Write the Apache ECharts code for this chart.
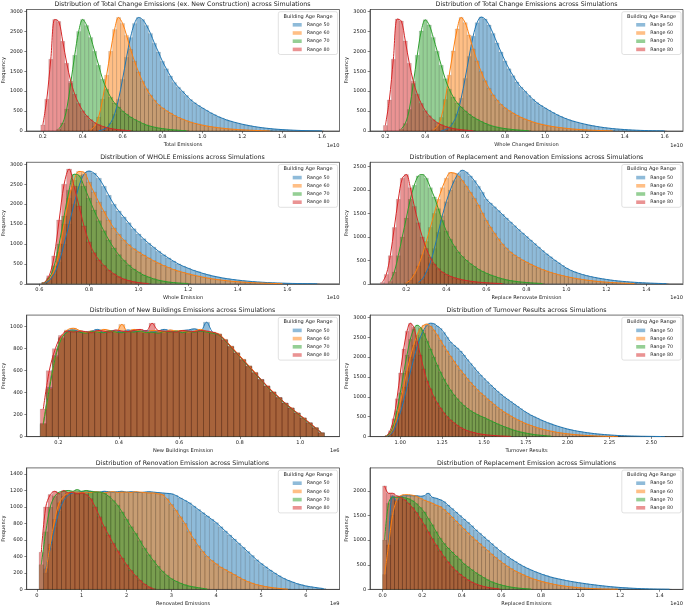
<!DOCTYPE html>
<html>
<head>
<meta charset="utf-8">
<title>Emission distributions</title>
<script src="https://cdn.jsdelivr.net/npm/echarts@6/dist/echarts.min.js"></script>
<style>
  html, body { margin: 0; padding: 0; background: #fff; }
  #main { width: 685px; height: 607px; }
</style>
</head>
<body>
<div id="main"></div>
<script>
var rangeNames = ['Range 50', 'Range 60', 'Range 70', 'Range 80'];

// ---- panel 1: total change emissions (ex. new construction), x in 1e10
var p1Step = 0.02;
var p1Start = [0.48, 0.44, 0.28, 0.20];   // first bin centre for each range
var p1R50 = [10,30,80,200,420,800,1300,1850,2350,2700,2850,2800,2650,2450,2200,1980,1750,1560,1380,1220,1100,1000,890,790,710,640,580,520,460,410,360,320,280,250,220,195,170,150,130,112,96,82,70,60,50,42,35,29,24,19,15,12,9,7,5,4,3];
var p1R60 = [30,120,350,800,1400,2000,2550,2850,2700,2400,2050,1750,1480,1250,1060,900,770,660,580,510,450,390,340,300,260,225,195,170,148,128,110,95,82,70,60,50,42,35,29,24,19,15,11,8,5,3];
var p1R70 = [50,200,550,1200,1900,2500,2800,2650,2350,2000,1650,1300,1050,850,700,600,500,420,350,290,240,190,150,120,95,75,60,47,36,27,19,12,7];
var p1R80 = [150,800,1800,2800,2750,2250,1700,1250,920,690,510,380,285,210,155,115,85,62,45,32,22,14,8];
var p1XTicks = [0.2,0.4,0.6,0.8,1.0,1.2,1.4,1.6];
var p1YTicks = [0,500,1000,1500,2000,2500,3000];

// ---- panel 2: total change emissions, x in 1e10
var p2Step = 0.02;
var p2Start = [0.48, 0.44, 0.28, 0.20];
var p2R50 = [10,30,90,210,430,820,1320,1870,2380,2720,2860,2810,2660,2450,2210,1980,1760,1560,1390,1230,1100,1000,890,795,710,640,580,520,462,410,362,320,282,250,222,195,172,150,131,113,97,83,71,60,51,43,36,29,24,19,15,12,9,7,5,4,3];
var p2R60 = [30,110,340,790,1400,2010,2560,2850,2720,2410,2060,1760,1490,1260,1070,905,775,665,580,510,450,392,342,300,262,226,196,170,148,128,111,95,82,70,60,50,42,35,29,24,19,15,11,8,5,3];
var p2R70 = [50,190,540,1190,1900,2510,2790,2660,2350,2000,1650,1310,1050,855,705,600,505,420,350,292,240,192,152,120,96,76,60,47,36,27,19,12,7];
var p2R80 = [140,780,1800,2810,2760,2260,1700,1250,925,690,510,382,285,210,156,115,85,62,45,32,22,14,8];
var p2XTicks = [0.2,0.4,0.6,0.8,1.0,1.2,1.4,1.6];
var p2YTicks = [0,500,1000,1500,2000,2500,3000];

// ---- panel 3: whole emissions, x in 1e10
var p3Step = 0.02;
var p3Start = [0.62, 0.62, 0.62, 0.62];
var p3R50 = [20,80,250,550,1000,1500,2000,2450,2750,2830,2780,2650,2450,2220,2000,1830,1680,1530,1380,1250,1130,1020,920,820,730,650,570,500,440,390,340,300,260,225,195,170,145,125,108,92,78,66,55,46,38,31,25,20,16,12,9,7,5,4,3,2];
var p3R60 = [30,130,330,800,1500,2150,2600,2820,2800,2550,2300,2050,1820,1600,1400,1240,1100,980,880,800,720,650,580,520,460,410,360,320,285,250,220,192,166,143,122,104,88,74,62,52,43,35,28,22,17,13,9,6,4];
var p3R70 = [30,150,450,1000,1700,2350,2750,2720,2450,2150,1850,1580,1330,1100,900,730,590,470,370,290,220,170,125,90,65,45,30,20,12,8];
var p3R80 = [30,200,700,1600,2500,2880,2450,1950,1450,1050,780,600,460,340,250,175,120,80,50,30,15,8];
var p3XTicks = [0.6,0.8,1.0,1.2,1.4,1.6];
var p3YTicks = [0,500,1000,1500,2000,2500,3000];

// ---- panel 4: replacement and renovation emissions, x in 1e10
var p4Step = 0.02;
var p4Start = [0.26, 0.20, 0.12, 0.08];
var p4R50 = [30,100,250,450,750,1100,1450,1750,2000,2200,2350,2420,2380,2300,2200,2080,1950,1800,1720,1640,1560,1480,1400,1320,1240,1160,1085,1010,935,860,785,710,640,575,510,450,390,335,290,255,225,198,175,155,137,121,106,93,81,70,60,52,45,38,32,27,22,18,14,11,8,6,4];
var p4R60 = [20,80,200,380,620,900,1200,1500,1800,2050,2250,2370,2360,2300,2200,2080,1950,1820,1680,1510,1350,1210,1080,960,850,760,680,615,560,510,465,420,380,340,305,275,245,220,195,175,155,137,120,105,92,80,69,59,50,42,35,29,24,19,15,11,8,5];
var p4R70 = [50,250,600,1000,1400,1800,2100,2300,2330,2250,2050,1850,1600,1350,1120,950,800,680,580,500,430,370,310,265,225,190,160,130,105,85,68,55,44,35,28,20,15,10,6];
var p4R80 = [30,200,600,1200,1800,2250,2330,2050,1650,1300,1000,750,560,420,320,250,200,160,130,105,85,70,55,45,35,28,22,16,12,8,5];
var p4XTicks = [0.2,0.4,0.6,0.8,1.0,1.2,1.4];
var p4YTicks = [0,500,1000,1500,2000,2500];

// ---- panel 5: new buildings emissions, x in 1e6
var p5Step = 0.02;
var p5Start = [0.15, 0.15, 0.15, 0.15];
var p5R50 = [120,450,740,900,960,970,955,950,960,975,945,965,960,950,970,960,955,965,950,960,975,960,955,965,970,980,960,1040,950,930,880,820,760,700,640,580,520,460,405,355,305,260,215,170,125,80,35];
var p5R60 = [120,440,730,900,970,985,965,945,960,950,975,965,950,1020,955,975,960,945,965,960,950,970,960,965,950,960,975,955,945,935,885,825,765,705,645,585,520,462,408,356,306,262,216,172,127,82,36];
var p5R70 = [110,430,720,890,950,960,950,940,955,950,945,960,950,945,955,950,960,945,950,940,955,950,960,945,955,950,960,950,940,925,875,815,755,695,635,575,515,455,400,350,300,255,210,165,120,78,33];
var p5R80 = [250,600,800,920,960,950,960,955,945,965,960,950,970,960,955,965,975,960,1030,965,960,955,950,965,960,955,965,960,950,930,880,820,760,700,640,580,520,460,405,355,305,260,215,170,125,80,35];
var p5XTicks = [0.2,0.4,0.6,0.8,1.0];
var p5YTicks = [0,200,400,600,800,1000];

// ---- panel 6: turnover results
var p6Step = 0.02;
var p6Start = [0.92, 0.92, 0.92, 0.92];
var p6R50 = [10,50,150,350,600,900,1250,1620,1950,2250,2500,2680,2800,2850,2840,2780,2720,2620,2500,2380,2300,2230,2150,2050,1940,1840,1740,1640,1550,1460,1380,1300,1220,1140,1070,1000,940,880,820,760,700,640,590,540,500,460,420,385,350,320,290,262,236,212,190,170,152,136,122,108,96,85,75,66,58,51,44,38,33,28,24,20,17,14,12,10,8,7,6,5,4,3,2,2];
var p6R60 = [20,80,250,500,850,1250,1650,2000,2300,2550,2720,2800,2830,2780,2680,2560,2420,2280,2150,2020,1900,1780,1670,1570,1460,1360,1270,1180,1100,1030,950,880,810,740,680,620,570,520,470,425,385,345,310,280,250,222,197,175,155,137,120,105,92,80,70,60,52,45,38,32,27,22,18,14,11,8,6,4,3,2];
var p6R70 = [20,100,300,650,1100,1600,2050,2450,2700,2800,2750,2600,2400,2200,2000,1800,1620,1450,1300,1170,1050,950,860,780,710,650,600,555,515,480,440,400,360,320,285,250,220,190,160,135,115,95,80,65,52,42,33,25,18,12];
var p6R80 = [30,150,450,950,1600,2200,2650,2850,2750,2400,2050,1700,1400,1200,1000,850,720,600,500,420,350,285,230,185,150,122,100,80,65,52,42,34,27,21,16,12,9,6];
var p6XTicks = [1.0,1.25,1.5,1.75,2.0,2.25,2.5];
var p6YTicks = [0,500,1000,1500,2000,2500,3000];

// ---- panel 7: renovation emission, x in 1e9
var p7Step = 0.1;
var p7Start = [0.2, 0.2, 0.1, 0.1];
var p7R50 = [250,500,750,950,1080,1140,1170,1180,1185,1180,1190,1185,1180,1190,1185,1180,1185,1190,1180,1185,1180,1175,1180,1185,1180,1175,1170,1165,1160,1140,1110,1080,1050,1010,970,930,890,850,810,760,710,660,610,560,510,460,410,360,315,275,235,200,165,135,110,90,70,55,42,32,24,16,10];
var p7R60 = [200,550,850,1050,1130,1170,1180,1180,1175,1180,1175,1185,1180,1170,1180,1185,1175,1180,1180,1175,1185,1180,1175,1170,1170,1160,1150,1100,1030,960,880,800,700,610,530,460,400,350,310,270,240,210,180,150,120,95,75,58,45,34,25,18,12,7,3];
var p7R70 = [300,700,1000,1130,1180,1190,1200,1190,1210,1190,1200,1190,1180,1180,1165,1130,1080,1020,940,850,760,680,590,500,420,350,280,220,170,130,100,75,55,40,30,20,12,5];
var p7R80 = [450,1000,1150,1190,1160,1200,1170,1180,1160,1170,1150,1100,1000,880,760,660,560,470,380,300,230,165,110,65,30,10];
var p7XTicks = [0,1,2,3,4,5,6];
var p7YTicks = [0,200,400,600,800,1000,1200,1400];

// ---- panel 8: replacement emission, x in 1e10
var p8Step = 0.02;
var p8Start = [0.03, 0.01, 0.01, 0.01];
var p8R50 = [900,1900,1800,1880,1900,1900,1900,1900,1890,1900,1950,1870,1850,1820,1780,1710,1640,1570,1500,1430,1360,1290,1210,1140,1070,1000,930,860,790,730,670,615,565,515,470,430,395,360,330,300,275,250,230,212,195,178,163,150,137,125,113,102,92,82,73,64,56,49,42,36,31,26,22,18,15,12,10,8,6,5,4,3];
var p8R60 = [300,900,1500,1800,1900,1920,1920,1910,1890,1850,1810,1780,1750,1710,1680,1620,1550,1470,1390,1310,1230,1150,1070,1000,930,860,790,720,650,585,525,470,420,375,335,298,262,230,202,177,155,135,117,100,85,72,61,51,43,36,30,24,19,15,12,9,7,5,4,3];
var p8R70 = [1000,1750,1870,1870,1870,1860,1840,1800,1740,1660,1570,1440,1310,1170,1040,930,840,760,680,610,520,460,400,340,290,240,195,155,125,100,78,60,45,33,24,17,11,7];
var p8R80 = [2100,1950,1950,1900,1870,1820,1750,1660,1560,1440,1310,1170,1030,900,780,660,560,460,380,310,250,195,150,112,82,60,42,28,18,10];
var p8XTicks = [0.0,0.2,0.4,0.6,0.8,1.0,1.2,1.4];
var p8YTicks = [0,500,1000,1500,2000];

var panels = [
  {title: 'Distribution of Total Change Emissions (ex. New Construction) across Simulations', xName: 'Total Emissions', offset: '1e10',
   step: p1Step, starts: p1Start, counts: [p1R50, p1R60, p1R70, p1R80], xTicks: p1XTicks, yTicks: p1YTicks, xMin: 0.119, xMax: 1.688, yMax: 3050, dec: 1},
  {title: 'Distribution of Total Change Emissions across Simulations', xName: 'Whole Changed Emission', offset: '1e10',
   step: p2Step, starts: p2Start, counts: [p2R50, p2R60, p2R70, p2R80], xTicks: p2XTicks, yTicks: p2YTicks, xMin: 0.123, xMax: 1.692, yMax: 3050, dec: 1},
  {title: 'Distribution of WHOLE Emissions across Simulations', xName: 'Whole Emission', offset: '1e10',
   step: p3Step, starts: p3Start, counts: [p3R50, p3R60, p3R70, p3R80], xTicks: p3XTicks, yTicks: p3YTicks, xMin: 0.549, xMax: 1.81, yMax: 3050, dec: 1},
  {title: 'Distribution of Replacement and Renovation Emissions across Simulations', xName: 'Replace Renovate Emission', offset: '1e10',
   step: p4Step, starts: p4Start, counts: [p4R50, p4R60, p4R70, p4R80], xTicks: p4XTicks, yTicks: p4YTicks, xMin: 0.0185, xMax: 1.583, yMax: 2590, dec: 1},
  {title: 'Distribution of New Buildings Emissions across Simulations', xName: 'New Buildings Emission', offset: '1e6',
   step: p5Step, starts: p5Start, counts: [p5R50, p5R60, p5R70, p5R80], xTicks: p5XTicks, yTicks: p5YTicks, xMin: 0.095, xMax: 1.13, yMax: 1105, dec: 1},
  {title: 'Distribution of Turnover Results across Simulations', xName: 'Turnover Results', offset: '',
   step: p6Step, starts: p6Start, counts: [p6R50, p6R60, p6R70, p6R80], xTicks: p6XTicks, yTicks: p6YTicks, xMin: 0.819, xMax: 2.689, yMax: 3055, dec: 2},
  {title: 'Distribution of Renovation Emission across Simulations', xName: 'Renovated Emissions', offset: '1e9',
   step: p7Step, starts: p7Start, counts: [p7R50, p7R60, p7R70, p7R80], xTicks: p7XTicks, yTicks: p7YTicks, xMin: -0.227, xMax: 6.751, yMax: 1474, dec: 0},
  {title: 'Distribution of Replacement Emission across Simulations', xName: 'Replaced Emissions', offset: '1e10',
   step: p8Step, starts: p8Start, counts: [p8R50, p8R60, p8R70, p8R80], xTicks: p8XTicks, yTicks: p8YTicks, xMin: -0.064, xMax: 1.518, yMax: 2465, dec: 1}
];

var lineColors = ['#1f77b4', '#ff7f0e', '#2ca02c', '#d62728'];
var fillColors = ['rgba(31,119,180,0.5)', 'rgba(255,127,14,0.5)', 'rgba(44,160,44,0.5)', 'rgba(214,39,40,0.5)'];
var fontFam = '"DejaVu Sans", sans-serif';
var colLeft = [25.5, 370], colWidth = [314, 313];
var rowTop = [9.5, 162.3, 315.1, 467.9], rowHeight = 121.5;

var chart = echarts.init(document.getElementById('main'));

function histItem(params, api) {
    var a = api.coord([api.value(0), api.value(2)]);
    var b = api.coord([api.value(1), 0]);
    return {
        type: 'rect',
        shape: {x: a[0], y: a[1], width: b[0] - a[0], height: b[1] - a[1]},
        style: {fill: api.visual('color'), stroke: 'rgba(0,0,0,0.22)', lineWidth: 0.45}
    };
}

var grids = [], xAxes = [], yAxes = [], legends = [], texts = [];
var barSeries = [], kdeSeries = [];

panels.forEach(function (p, i) {
    var col = i % 2, row = Math.floor(i / 2);
    var left = colLeft[col], width = colWidth[col], top = rowTop[row];
    grids.push({left: left, top: top, width: width, height: rowHeight, show: true,
        borderColor: '#333', borderWidth: 0.7, backgroundColor: 'transparent', containLabel: false});

    xAxes.push({
        type: 'value', gridIndex: i, min: p.xMin, max: p.xMax,
        name: p.xName, nameLocation: 'middle', nameGap: 11.5,
        nameTextStyle: {fontSize: 5.1, fontFamily: fontFam, color: '#222'},
        axisLine: {show: true, onZero: false, lineStyle: {color: '#333', width: 0.7}},
        axisTick: {show: true, length: 2.3, lineStyle: {color: '#333', width: 0.6}, customValues: p.xTicks},
        axisLabel: {customValues: p.xTicks, fontSize: 5.1, fontFamily: fontFam, color: '#222', margin: 3.6,
            formatter: function (v) { return v.toFixed(p.dec); }},
        splitLine: {show: false}
    });
    yAxes.push({
        type: 'value', gridIndex: i, min: 0, max: p.yMax,
        name: 'Frequency', nameLocation: 'middle', nameGap: 20,
        nameTextStyle: {fontSize: 5.1, fontFamily: fontFam, color: '#222'},
        axisLine: {show: true, onZero: false, lineStyle: {color: '#333', width: 0.7}},
        axisTick: {show: true, length: 2.3, lineStyle: {color: '#333', width: 0.6}, customValues: p.yTicks},
        axisLabel: {customValues: p.yTicks, fontSize: 5.1, fontFamily: fontFam, color: '#222', margin: 3.8,
            formatter: function (v) { return String(Math.round(v)); }},
        splitLine: {show: false}
    });

    p.counts.forEach(function (vals, k) {
        var bars = [], pts = [];
        vals.forEach(function (v, j) {
            var c = p.starts[k] + j * p.step;
            bars.push([c - p.step / 2, c + p.step / 2, v]);
            pts.push([c, v]);
        });
        barSeries.push({
            type: 'custom', name: rangeNames[k], xAxisIndex: i, yAxisIndex: i,
            renderItem: histItem, data: bars, clip: true, z: 2,
            encode: {x: [0, 1], y: 2},
            itemStyle: {color: fillColors[k]}
        });
        kdeSeries.push({
            type: 'line', name: 'kde ' + rangeNames[k], xAxisIndex: i, yAxisIndex: i,
            data: pts, smooth: 0.35, showSymbol: false, z: 3,
            lineStyle: {color: lineColors[k], width: 1}, itemStyle: {color: lineColors[k]}
        });
    });

    var boxLeft = left + width - 61.2, boxTop = top + 2.2;
    legends.push({
        orient: 'vertical', left: boxLeft, top: boxTop, data: rangeNames, icon: 'rect',
        itemWidth: 9, itemHeight: 3.6, itemGap: 3.2, selectedMode: false,
        textStyle: {fontSize: 4.8, fontFamily: fontFam, color: '#222'},
        backgroundColor: 'rgba(255,255,255,0.8)', borderColor: '#ccc', borderWidth: 0.6, borderRadius: 2,
        padding: [10.6, 8, 2.6, 14.4]
    });
    texts.push({type: 'text', x: boxLeft + 29.7, y: boxTop + 4.6, z: 100,
        style: {text: 'Building Age Range', font: '5px ' + fontFam, fill: '#222', textAlign: 'center', textVerticalAlign: 'middle'}});
    texts.push({type: 'text', x: left + width / 2, y: top - 5, z: 100,
        style: {text: p.title, font: '6.3px ' + fontFam, fill: '#222', textAlign: 'center', textVerticalAlign: 'middle'}});
    if (p.offset) {
        texts.push({type: 'text', x: left + width, y: top + rowHeight + 14.2, z: 100,
            style: {text: p.offset, font: '5.1px ' + fontFam, fill: '#222', textAlign: 'right', textVerticalAlign: 'middle'}});
    }
});

chart.setOption({
    animation: false,
    backgroundColor: '#fff',
    grid: grids,
    xAxis: xAxes,
    yAxis: yAxes,
    legend: legends,
    series: barSeries.concat(kdeSeries),
    graphic: {elements: texts}
});
</script>
</body>
</html>
